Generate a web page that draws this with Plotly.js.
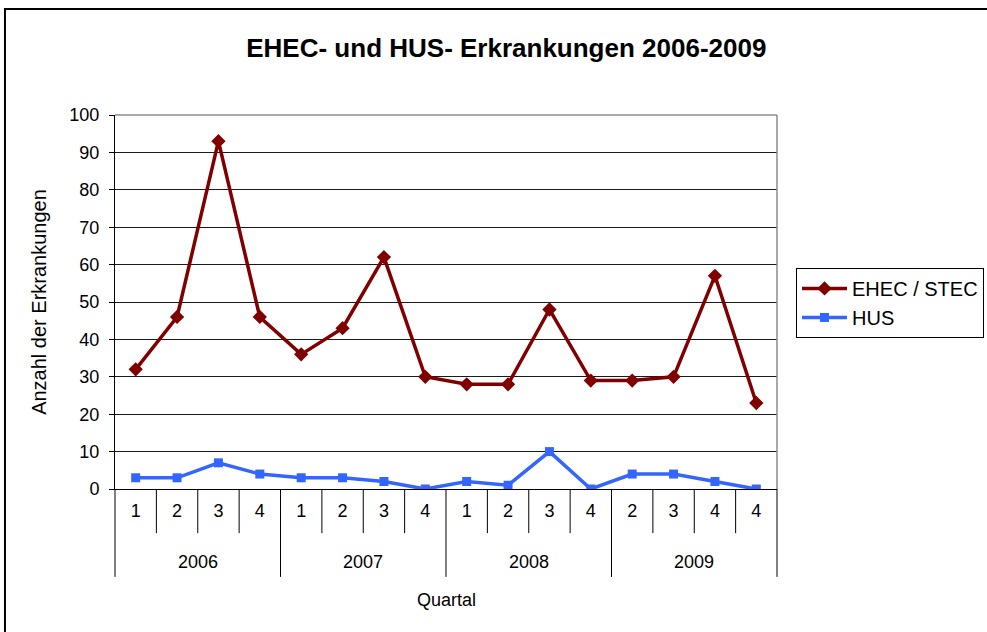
<!DOCTYPE html>
<html>
<head>
<meta charset="utf-8">
<script src="https://cdn.plot.ly/plotly-3.0.1.min.js"></script>
<style>html,body{margin:0;padding:0;background:#fff;}#chart{width:987px;height:632px;}</style>
</head>
<body>
<div id="chart"></div>
<script>
// Data
const quarterLabels = ['1','2','3','4','1','2','3','4','1','2','3','4','2','3','4','4'];
const yearLabels = ['2006','2007','2008','2009'];
const ehec = [32, 46, 93, 46, 36, 43, 62, 30, 28, 28, 48, 29, 29, 30, 57, 23];
const hus  = [3, 3, 7, 4, 3, 3, 2, 0, 2, 1, 10, 0, 4, 4, 2, 0];

const idx = quarterLabels.map((_, i) => i);
const FONT = '"Liberation Sans", Arial, sans-serif';

const traces = [
  {
    x: idx, y: ehec, name: 'EHEC / STEC', type: 'scatter', mode: 'lines+markers',
    legendgroup: 'a',
    line: {color: '#800000', width: 3.5},
    marker: {symbol: 'diamond', size: 11, color: '#800000'}
  },
  {
    x: idx, y: hus, name: 'HUS', type: 'scatter', mode: 'lines+markers',
    legendgroup: 'b',
    line: {color: '#3366FF', width: 3.5},
    marker: {symbol: 'square', size: 9, color: '#3366FF'}
  }
];

const shapes = [];
// outer chart border
shapes.push({type: 'rect', xref: 'paper', yref: 'paper', x0: -0.1662, x1: 1.6, y0: -0.6, y1: 1.2834,
  line: {color: '#000', width: 2}, layer: 'below'});
// plot-area top and right border (grey)
shapes.push({type: 'line', xref: 'paper', yref: 'paper', x0: 0, x1: 1, y0: 1, y1: 1, line: {color: '#8c8c8c', width: 1.5}, layer: 'above'});
shapes.push({type: 'line', xref: 'paper', yref: 'paper', x0: 1, x1: 1, y0: 0, y1: 1, line: {color: '#8c8c8c', width: 1.5}, layer: 'above'});
// category dividers below axis
for (let i = 0; i < quarterLabels.length - 1; i++) {
  const isYear = (i + 1) % 4 === 0;
  shapes.push({type: 'line', xref: 'x', yref: 'paper', x0: i + 0.5, x1: i + 0.5,
    y0: 0, y1: isYear ? -0.235 : -0.118, line: {color: '#000', width: 1}});
}
shapes.push({type: 'line', xref: 'paper', yref: 'paper', x0: 0, x1: 0, y0: 0, y1: -0.235, line: {color: '#000', width: 1}});
shapes.push({type: 'line', xref: 'paper', yref: 'paper', x0: 1, x1: 1, y0: 0, y1: -0.235, line: {color: '#000', width: 1}});

const annotations = yearLabels.map((y, k) => ({
  text: y, xref: 'x', yref: 'paper', x: k * 4 + 1.5, y: -0.195,
  showarrow: false, font: {family: FONT, size: 18, color: '#000'}, yanchor: 'middle'
}));
annotations.push({text: 'Quartal', xref: 'paper', yref: 'paper', x: 0.5, y: -0.298,
  showarrow: false, font: {family: FONT, size: 18, color: '#000'}, yanchor: 'middle'});

const layout = {
  width: 987, height: 632,
  margin: {l: 115, r: 210, t: 115, b: 143},
  paper_bgcolor: '#fff', plot_bgcolor: '#fff',
  font: {family: FONT, size: 18, color: '#000'},
  title: {text: '<b>EHEC- und HUS- Erkrankungen 2006-2009</b>', xref: 'container', x: 0.513, xanchor: 'center',
    y: 0.925, yanchor: 'middle', font: {family: FONT, size: 26, color: '#000'}},
  xaxis: {
    range: [-0.5, quarterLabels.length - 0.5], tickmode: 'array', tickvals: idx, ticktext: quarterLabels,
    showgrid: false, zeroline: false, showline: true, linecolor: '#000', linewidth: 1,
    ticks: '', ticklabelstandoff: 5, tickfont: {family: FONT, size: 18, color: '#000'},
    automargin: false, fixedrange: true
  },
  yaxis: {
    range: [0, 100], dtick: 10, tick0: 0,
    showgrid: true, gridcolor: '#1a1a1a', gridwidth: 1, zeroline: false,
    showline: true, linecolor: '#000', linewidth: 1,
    ticks: 'outside', ticklen: 5, tickcolor: '#000', ticklabelstandoff: 6,
    tickfont: {family: FONT, size: 18, color: '#000'},
    title: {text: 'Anzahl der Erkrankungen', font: {family: FONT, size: 20, color: '#000'}, standoff: 17},
    automargin: false, fixedrange: true
  },
  legend: {
    xref: 'container', yref: 'container',
    x: 0.8065, y: 0.576, xanchor: 'left', yanchor: 'top',
    bordercolor: '#000', borderwidth: 1, bgcolor: '#fff',
    font: {family: FONT, size: 20, color: '#000'},
    itemwidth: 45,
    tracegroupgap: 10, traceorder: 'normal'
  },
  shapes: shapes,
  annotations: annotations,
  showlegend: true
};

Plotly.newPlot('chart', traces, layout, {displayModeBar: false, staticPlot: true});
</script>
</body>
</html>
